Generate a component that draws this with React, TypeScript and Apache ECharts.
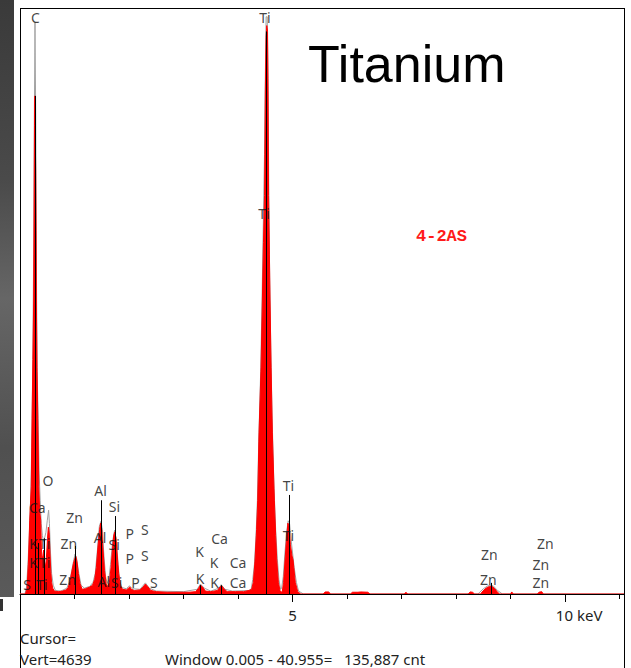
import React, { useEffect, useRef } from 'react';
import * as echarts from 'echarts';

// Red (measured) spectrum: energy in keV and counts as % of full scale
const redKeV = [0, 0.1, 0.13, 0.156, 0.178, 0.207, 0.222, 0.237, 0.251, 0.258, 0.266, 0.272, 0.282, 0.288, 0.294, 0.3, 0.312, 0.33, 0.345, 0.362, 0.38, 0.392, 0.404, 0.42, 0.435, 0.45, 0.47, 0.49, 0.505, 0.52, 0.535, 0.55, 0.565, 0.58, 0.6, 0.63, 0.7, 0.78, 0.84, 0.88, 0.92, 0.95, 0.98, 1.01, 1.025, 1.045, 1.07, 1.1, 1.14, 1.2, 1.28, 1.33, 1.37, 1.4, 1.43, 1.46, 1.48, 1.5, 1.52, 1.55, 1.58, 1.61, 1.64, 1.67, 1.7, 1.72, 1.74, 1.76, 1.78, 1.81, 1.84, 1.88, 1.95, 1.99, 2.015, 2.04, 2.1, 2.2, 2.26, 2.3, 2.34, 2.4, 2.5, 2.7, 2.9, 3.1, 3.22, 3.27, 3.31, 3.35, 3.4, 3.5, 3.62, 3.67, 3.7, 3.74, 3.8, 3.95, 4.1, 4.2, 4.25, 4.28, 4.31, 4.34, 4.361, 4.385, 4.422, 4.446, 4.466, 4.486, 4.501, 4.514, 4.527, 4.541, 4.55, 4.56, 4.575, 4.587, 4.606, 4.629, 4.666, 4.69, 4.71, 4.74, 4.771, 4.79, 4.813, 4.835, 4.862, 4.89, 4.915, 4.935, 4.96, 4.99, 5.009, 5.05, 5.095, 5.15, 5.56, 5.6, 5.66, 5.7, 6.06, 6.1, 6.2, 6.25, 6.38, 6.42, 7.05, 7.08, 7.11, 8.22, 8.26, 8.3, 8.34, 8.45, 8.49, 8.55, 8.61, 8.66, 8.71, 8.76, 8.8, 9.0, 9.02, 9.05, 9.49, 9.52, 9.57, 9.6, 11.08];
const redCounts = [0, 0, 1, 5.8, 12.6, 18.3, 30, 40, 50, 64, 80, 85, 85, 72, 64, 50, 38.7, 27.5, 18.3, 14, 12.6, 8, 5.8, 6.5, 7.5, 5.5, 4.6, 7, 9.5, 11.4, 10.5, 7, 3.8, 2, 1, 0.5, 0.4, 0.5, 0.7, 1, 2.2, 3.8, 5.2, 6.2, 6.4, 5.5, 3.5, 1.8, 0.8, 0.9, 1.2, 1.5, 2.5, 4.5, 8, 11, 12.1, 11, 8, 4, 1.8, 1.2, 2, 4.5, 8, 10, 10.6, 9.5, 7, 3.5, 1.5, 0.8, 0.7, 1, 1.2, 0.8, 0.6, 0.7, 1.2, 1.7, 1.3, 0.6, 0.4, 0.3, 0.3, 0.3, 0.4, 0.9, 1.5, 1.2, 0.5, 0.4, 0.6, 1.2, 1.4, 0.9, 0.4, 0.4, 0.4, 0.6, 0.8, 2, 5.5, 11, 16, 27.5, 38.7, 50, 60, 68, 86, 95, 97, 96, 86, 68, 58, 50, 38.7, 27.5, 16, 10, 5.8, 2, 0.5, 0.3, 0.5, 2, 5.8, 9.5, 12.1, 11.5, 8.5, 6.5, 5.8, 2, 0.4, 0, 0, 0.35, 0.35, 0, 0, 0.3, 0.3, 0.35, 0.3, 0, 0, 0.3, 0, 0, 0.35, 0.3, 0, 0, 0.5, 1, 1.3, 1.3, 0.9, 0.3, 0, 0, 0.35, 0, 0, 0.3, 0.4, 0, 0];

// Gray (overlay) spectrum
const grayKeV = [0, 0.09, 0.12, 0.145, 0.17, 0.195, 0.215, 0.235, 0.25, 0.262, 0.275, 0.288, 0.297, 0.305, 0.315, 0.333, 0.35, 0.37, 0.39, 0.41, 0.43, 0.45, 0.475, 0.5, 0.525, 0.54, 0.56, 0.58, 0.61, 0.65, 0.75, 0.86, 0.9, 0.94, 0.98, 1.01, 1.04, 1.08, 1.12, 1.18, 1.28, 1.34, 1.38, 1.42, 1.455, 1.485, 1.51, 1.54, 1.57, 1.6, 1.63, 1.66, 1.7, 1.735, 1.77, 1.8, 1.83, 1.87, 1.95, 2.01, 2.06, 2.2, 2.3, 2.37, 2.5, 3.0, 3.25, 3.31, 3.38, 3.5, 3.65, 3.69, 3.76, 3.9, 4.2, 4.24, 4.27, 4.3, 4.33, 4.355, 4.38, 4.415, 4.44, 4.465, 4.485, 4.5, 4.515, 4.535, 4.55, 4.565, 4.58, 4.6, 4.625, 4.66, 4.69, 4.72, 4.75, 4.78, 4.8, 4.83, 4.86, 4.89, 4.92, 4.945, 4.97, 5.0, 5.03, 5.07, 5.11, 5.2, 8.4, 8.5, 8.6, 8.68, 8.76, 8.85, 11.08];
const grayCounts = [0, 0, 1.2, 5, 10, 16, 25, 40, 58, 80, 97.5, 82, 62, 50, 38, 30, 21, 16, 12, 10, 9, 9.5, 10.5, 12.5, 14.3, 12, 7, 3.5, 1.5, 0.6, 0.5, 1, 2, 3.5, 5.5, 6.8, 6, 3.5, 1.5, 1, 1.3, 2, 3.5, 7.5, 11.5, 12.4, 11, 6.5, 3, 1.8, 2.5, 5, 9, 10.9, 9, 5, 2.2, 1.1, 0.9, 1.4, 0.9, 0.8, 1.9, 1, 0.5, 0.4, 0.8, 1.7, 1, 0.5, 1, 1.6, 0.8, 0.5, 0.6, 0.8, 2.5, 5, 10, 16, 26, 38, 50, 64, 75, 88, 98.5, 98.5, 88, 68, 54, 42, 30, 18, 11, 6, 2.5, 0.8, 1, 3, 7, 10.5, 12.5, 12, 9.5, 7, 4.5, 2, 0.5, 0, 0, 0.9, 1.5, 1.4, 0.6, 0, 0];

// Element (KLM) marker lines: energy and top height
const markerKeV = [0.277, 0.341, 0.452, 1.012, 1.486, 1.74, 3.313, 3.691, 4.51, 4.931, 8.637];
const markerTop = [85, 8.7, 9.5, 8.2, 16, 13.3, 1.5, 1.5, 96, 16.9, 1.9];

// Element labels
const labelText = ['C', 'Ti', 'Ti', 'O', 'Ca', 'K', 'Ti', 'K', 'Ti', 'S', 'Ti', 'Zn', 'Zn', 'Zn', 'Al', 'Al', 'Al', 'Si', 'Si', 'Si', 'P', 'P', 'P', 'S', 'S', 'S', 'K', 'K', 'K', 'K', 'Ca', 'Ca', 'Ca', 'Ti', 'Ti', 'Zn', 'Zn', 'Zn', 'Zn', 'Zn'];
const labelKeV = [0.284, 4.495, 4.477, 0.514, 0.316, 0.251, 0.453, 0.251, 0.453, 0.128, 0.404, 1.0, 0.896, 0.875, 1.477, 1.468, 1.538, 1.734, 1.728, 1.774, 2.012, 2.012, 2.119, 2.29, 2.29, 2.453, 3.294, 3.56, 3.303, 3.569, 3.661, 4.0, 4.0, 4.923, 4.923, 8.609, 8.593, 9.637, 9.556, 9.556];
const labelLevel = [98.4, 98.4, 65.0, 19.3, 14.7, 8.6, 8.6, 5.3, 5.3, 1.7, 1.7, 13.1, 8.6, 2.4, 17.7, 9.6, 2.1, 15.0, 8.5, 1.9, 10.4, 6.1, 1.9, 11.0, 6.5, 1.9, 7.2, 5.3, 2.6, 1.9, 9.4, 5.3, 1.9, 18.6, 9.9, 6.7, 2.5, 8.6, 5.0, 1.9];

const axisMin = 0;
const axisMax = 11.08;
const majorTickLabels: Record<number, string> = { 5: '5', 10: '{k|10 keV}' };

const UI_FONT = '"Noto Sans", sans-serif';

export default function App() {
  const ref = useRef<HTMLDivElement>(null);

  useEffect(() => {
    if (!ref.current) return;
    const chart = echarts.init(ref.current, null, { renderer: 'svg' });

    const option: any = {
      animation: false,
      backgroundColor: '#ffffff',
      grid: { left: 20, right: 7, top: 8, bottom: 74, containLabel: false, outerBoundsMode: 'none' },
      xAxis: [
        {
          type: 'value', min: axisMin, max: axisMax, interval: 1, position: 'bottom', z: 10,
          axisLine: { show: true, onZero: false, lineStyle: { color: '#000', width: 1 } },
          axisTick: { show: true, length: 5, lineStyle: { color: '#000', width: 1 } },
          axisLabel: { show: false },
          splitLine: { show: false },
        },
        {
          type: 'value', min: axisMin, max: axisMax, interval: 5, position: 'bottom', z: 10,
          axisLine: { show: false, onZero: false },
          axisTick: { show: true, length: 8, lineStyle: { color: '#000', width: 1 } },
          axisLabel: {
            show: true, margin: 13, color: '#222', fontSize: 15, fontFamily: UI_FONT,
            formatter: (v: number) => majorTickLabels[v] ?? '',
            rich: { k: { padding: [0, 0, 0, 28], color: '#222', fontSize: 15, fontFamily: UI_FONT } },
          },
          splitLine: { show: false },
        },
      ],
      yAxis: { type: 'value', min: 0, max: 100, show: false },
      series: [
        {
          type: 'line', name: 'overlay', z: 2, xAxisIndex: 0,
          data: grayKeV.map((e, i) => [e, grayCounts[i]]),
          showSymbol: false, symbol: 'none', silent: true,
          lineStyle: { color: '#a2a2a2', width: 1 },
        },
        {
          type: 'line', name: 'spectrum', z: 3, xAxisIndex: 0,
          data: redKeV.map((e, i) => [e, redCounts[i]]),
          showSymbol: false, symbol: 'none', silent: true,
          lineStyle: { color: '#ff0000', width: 1 },
          areaStyle: { color: '#ff0000', opacity: 1 },
        },
        {
          type: 'lines', coordinateSystem: 'cartesian2d', z: 5, xAxisIndex: 0, silent: true,
          data: markerKeV.map((e, i) => ({ coords: [[e, markerTop[i]], [e, 0]] })),
          lineStyle: { color: '#000', width: 1, opacity: 1 },
        },
        {
          type: 'scatter', z: 6, xAxisIndex: 0, silent: true,
          symbolSize: 1,
          itemStyle: { color: 'transparent' },
          data: labelKeV.map((e, i) => ({ value: [e, labelLevel[i]], name: labelText[i] })),
          label: {
            show: true, position: 'inside', formatter: '{b}',
            color: '#111', fontSize: 14, fontFamily: UI_FONT,
          },
        },
      ],
      graphic: [
        {
          type: 'rect', silent: true,
          shape: { x: 0, y: 0, width: 14, height: 597 },
          style: {
            fill: new echarts.graphic.LinearGradient(0, 0, 0, 1, [
              { offset: 0, color: '#3a3a3a' },
              { offset: 0.3, color: '#4a4a4a' },
              { offset: 0.5, color: '#666666' },
              { offset: 0.75, color: '#505050' },
              { offset: 1, color: '#5a5a5a' },
            ]),
          },
        },
        { type: 'rect', silent: true, shape: { x: 0, y: 599, width: 3, height: 12 }, style: { fill: '#333' } },
        { type: 'line', silent: true, shape: { x1: 20.5, y1: 8, x2: 20.5, y2: 668 }, style: { stroke: '#000', lineWidth: 1 } },
        { type: 'line', silent: true, shape: { x1: 624.5, y1: 8, x2: 624.5, y2: 668 }, style: { stroke: '#000', lineWidth: 1 } },
        { type: 'line', silent: true, shape: { x1: 20, y1: 8.5, x2: 625, y2: 8.5 }, style: { stroke: '#000', lineWidth: 1 } },
        {
          type: 'text', silent: true, x: 308, y: 64,
          style: { text: 'Titanium', fontSize: 52, fontFamily: '"Liberation Sans", Arial, sans-serif', fill: '#000', textAlign: 'left', textVerticalAlign: 'middle' },
        },
        {
          type: 'text', silent: true, x: 441.5, y: 236,
          style: { text: '4-2AS', fontSize: 17, fontWeight: 'bold', fontFamily: '"Liberation Mono", monospace', fill: '#ff1a1a', textAlign: 'center', textVerticalAlign: 'middle' },
        },
        {
          type: 'text', silent: true, x: 20, y: 638,
          style: { text: 'Cursor=', fontSize: 15, fontFamily: UI_FONT, fill: '#222', textAlign: 'left', textVerticalAlign: 'middle' },
        },
        {
          type: 'text', silent: true, x: 20, y: 659,
          style: { text: 'Vert=4639', fontSize: 15, fontFamily: UI_FONT, fill: '#222', textAlign: 'left', textVerticalAlign: 'middle' },
        },
        {
          type: 'text', silent: true, x: 165, y: 659,
          style: { text: 'Window 0.005 - 40.955=\u00a0\u00a0 135,887 cnt', fontSize: 15, fontFamily: UI_FONT, fill: '#222', textAlign: 'left', textVerticalAlign: 'middle' },
        },
      ],
    };

    chart.setOption(option);
    return () => chart.dispose();
  }, []);

  return (
    <div
      ref={ref}
      style={{ position: 'fixed', left: 0, top: 0, width: 631, height: 668, background: '#fff' }}
    />
  );
}
